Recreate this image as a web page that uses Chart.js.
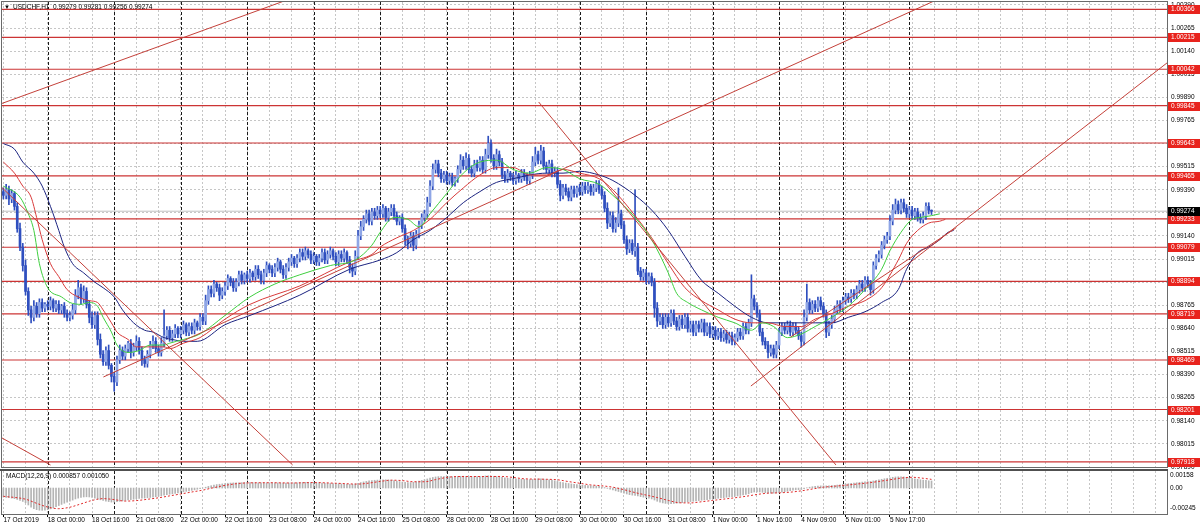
<!DOCTYPE html>
<html><head><meta charset="utf-8">
<script src="https://cdn.jsdelivr.net/npm/chart.js@4.4.1/dist/chart.umd.min.js"></script>
<style>
html,body{margin:0;padding:0;background:#fff;width:1200px;height:529px;overflow:hidden;}
#wrap{position:relative;width:1200px;height:529px;}
#main{position:absolute;left:0;top:0;}
#macd{position:absolute;left:0;top:469px;}
</style></head><body>
<div id="wrap"><canvas id="main" width="1200" height="469"></canvas><canvas id="macd" width="1200" height="60"></canvas></div>
<script>
// ---------------- DATA ----------------
const symbol = 'USDCHF,H1';
const firstOpen = 0.9938;
// hourly closes, 17 Oct 2019 08:00 .. 6 Nov 08:00
const closes = [
 0.9936,0.9939,0.9934,0.9937,0.9930,0.9918,0.9908,0.9898,0.9884,0.9874,0.9870,0.9876,0.9872,0.9878,0.9875,0.9877,
 0.9876,0.9879,0.9875,0.9877,0.9874,0.9876,0.9872,0.9870,0.9871,0.9874,0.9882,0.9886,0.9880,0.9884,0.9877,0.9870,0.9866,0.9871,0.9858,0.9850,0.9846,0.9852,0.9844,0.9838,
 0.9835,0.9847,0.9852,0.9849,0.9853,0.9856,0.9851,0.9854,0.9857,0.9852,0.9847,0.9845,0.9850,0.9855,0.9857,0.9853,0.9851,0.9856,0.9860,0.9863,0.9859,0.9861,0.9864,0.9861,
 0.9863,0.9866,0.9862,0.9865,0.9863,0.9867,0.9865,0.9870,0.9868,0.9879,0.9885,0.9883,0.9888,0.9886,0.9882,0.9884,0.9887,0.9891,0.9889,0.9886,0.9889,0.9893,0.9890,0.9893,
 0.9891,0.9894,0.9892,0.9896,0.9893,0.9890,0.9894,0.9898,0.9896,0.9894,0.9897,0.9900,0.9896,0.9893,0.9897,0.9900,0.9902,0.9899,0.9902,0.9905,0.9903,0.9906,0.9904,0.9901,
 0.9903,0.9900,0.9902,0.9905,0.9901,0.9904,0.9906,0.9903,0.9900,0.9904,0.9902,0.9905,0.9901,0.9897,0.9895,0.9903,0.9914,0.9919,0.9923,0.9926,0.9922,0.9927,0.9925,0.9928,
 0.9926,0.9929,0.9924,0.9927,0.9929,0.9925,0.9922,0.9924,0.9918,0.9912,0.9910,0.9914,0.9909,0.9915,0.9920,0.9924,0.9926,0.9932,0.9941,0.9950,0.9953,0.9948,0.9945,0.9947,
 0.9944,0.9946,0.9943,0.9945,0.9950,0.9955,0.9952,0.9956,0.9950,0.9948,0.9953,0.9951,0.9955,0.9950,0.9958,0.9964,0.9956,0.9952,0.9958,0.9954,0.9947,0.9945,0.9948,0.9946,
 0.9944,0.9947,0.9945,0.9948,0.9946,0.9944,0.9947,0.9954,0.9958,0.9955,0.9960,0.9952,0.9950,0.9953,0.9948,0.9949,0.9942,0.9936,0.9940,0.9938,0.9935,0.9939,0.9937,0.9940,
 0.9938,0.9941,0.9939,0.9941,0.9938,0.9940,0.9942,0.9939,0.9936,0.9929,0.9921,0.9925,0.9918,0.9921,0.9926,0.9920,0.9912,0.9907,0.9910,0.9906,0.9908,0.9895,0.9892,0.9894,
 0.9890,0.9892,0.9889,0.9875,0.9868,0.9870,0.9866,0.9870,0.9867,0.9872,0.9868,0.9865,0.9869,0.9866,0.9870,0.9864,0.9866,0.9862,0.9866,0.9864,0.9867,0.9862,0.9865,0.9861,
 0.9863,0.9860,0.9862,0.9859,0.9861,0.9858,0.9860,0.9857,0.9859,0.9862,0.9860,0.9865,0.9863,0.9867,0.9880,0.9876,0.9872,0.9862,0.9857,0.9855,0.9851,0.9853,0.9850,0.9855,
 0.9862,0.9865,0.9863,0.9866,0.9862,0.9865,0.9863,0.9860,0.9857,0.9870,0.9878,0.9874,0.9877,0.9875,0.9879,0.9876,0.9872,0.9862,0.9866,0.9869,0.9874,0.9877,0.9875,
 0.9879,0.9881,0.9880,0.9883,0.9882,0.9885,0.9888,0.9886,0.9890,0.9888,0.9885,0.9898,0.9902,0.9904,0.9909,0.9912,0.9914,0.9922,0.9928,0.9931,0.9928,0.9932,0.9929,0.9926,
 0.9928,0.9925,0.9927,0.9924,0.9923,0.9925,0.9930,0.99279,0.99274
];
// wick lengths above / below the body, in pips (0.0001)
const upWickPips = [
 2,3,2,2,1,2,3,2,3,2,2,3,2,2,2,1,
 2,2,1,2,2,1,2,2, 2,3,3,4,2,3,2,2, 3,2,2,3,2,2,3,1,
 2,2,3,2,2,1,2,2, 3,2,2,2,2,2,3,2, 2,3,14,2,2,2,2,1,
 2,2,1,2,2,2,1,2, 2,3,2,2,2,1,2,2, 2,2,1,2,2,2,2,1,
 2,2,1,2,2,2,2,2, 1,2,2,2,1,2,2,2, 2,1,2,2,2,2,1,2,
 2,1,2,2,2,2,2,1, 2,2,2,2,1,2,2,3, 3,3,2,2,2,2,2,2,
 2,2,1,2,2,2,2,1, 2,2,2,2,2,2,2,2, 2,3,3,3,2,2,2,2,
 2,2,2,1,2,3,2,3, 2,2,2,2,2,2,3,4, 2,2,3,2,2,2,2,1,
 2,2,1,2,2,2,2,3, 4,2,3,2,2,2,2,2, 2,2,2,2,2,2,2,1,
 2,2,2,2,1,2,2,2, 2,2,3,2,2,3,14,2, 2,2,2,2,31,2,2,2,
 2,2,2,2,3,2,2,2, 2,2,2,2,2,2,2,2, 2,2,2,2,2,2,2,2,
 2,2,2,2,2,2,2,2, 2,2,2,2,2,2,13,2, 2,2,2,2,2,2,2,2,
 2,2,2,2,2,2,2,2, 2,4,10,2,2,2,2,2, 2,2,2,2,2,2,2,
 2,2,2,2,2,2,2,2, 2,2,2,2,2,2,2,2, 2,3,3,3,2,2,2,2,
 2,2,2,2,2,2,2,2,0.2
];
const lowWickPips = [
 2,2,3,2,2,2,2,3,2,3,3,2,2,2,2,2,
 2,2,2,2,2,2,2,2, 2,2,2,2,3,2,2,3, 2,2,3,2,2,2,2,3,
 5,2,2,2,2,2,3,2, 2,2,3,2,2,2,2,2, 2,2,2,2,2,2,2,2,
 2,2,2,2,2,2,2,2, 2,2,2,2,2,2,3,2, 2,2,2,2,2,2,2,2,
 2,2,2,2,2,2,2,2, 2,2,2,2,2,2,2,2, 2,2,2,2,2,2,2,2,
 2,2,2,2,2,2,2,2, 2,2,2,2,2,3,3,2, 2,2,2,2,2,2,2,2,
 2,2,2,2,2,2,2,2, 2,3,3,2,3,2,2,2, 2,2,2,2,2,2,2,2,
 2,2,2,2,2,2,2,2, 2,2,2,2,2,2,2,2, 2,2,2,2,2,2,2,2,
 2,2,2,2,2,2,2,2, 2,2,2,2,2,2,2,2, 2,3,2,2,2,2,2,2,
 2,2,2,2,2,2,2,2, 2,2,3,2,2,2,2,2, 2,3,2,2,3,2,2,2,
 2,2,2,5,3,2,2,2, 2,2,2,2,2,2,2,2, 2,2,2,2,2,2,2,2,
 2,2,2,2,2,2,2,2, 2,2,2,2,2,2,2,2, 2,2,2,2,3,2,2,2,
 2,2,2,2,2,2,2,2, 3,2,2,2,2,2,2,2, 2,3,2,2,2,2,2,
 2,2,2,2,2,2,2,2, 2,2,3,2,2,2,2,2, 2,2,2,2,2,2,2,2,
 2,2,2,2,2,2,2,2,1.8
];
const xLabels = ['17 Oct 2019','18 Oct 00:00','18 Oct 16:00','21 Oct 08:00','22 Oct 00:00','22 Oct 16:00','23 Oct 08:00','24 Oct 00:00','24 Oct 16:00','25 Oct 08:00','28 Oct 00:00','28 Oct 16:00','29 Oct 08:00','30 Oct 00:00','30 Oct 16:00','31 Oct 08:00','1 Nov 00:00','1 Nov 16:00','4 Nov 09:00','5 Nov 01:00','5 Nov 17:00'];
const xLabelBars = [0,16,32,48,64,80,96,112,128,144,160,176,192,208,224,240,256,272,288,304,320];
const daySeparatorBars = [16,40,64,88,112,136,160,184,208,232,256,280,303,327];
const priceTicks = [0.97890,0.98015,0.98140,0.98265,0.98390,0.98515,0.98640,0.98765,0.98890,0.99015,0.99140,0.99265,0.99390,0.99515,0.99640,0.99765,0.99890,1.00015,1.00140,1.00265,1.00390];
const levels = [1.00366,1.00215,1.00042,0.99845,0.99643,0.99465,0.99233,0.99079,0.98894,0.98719,0.98469,0.98201,0.97918];
const bidPrice = 0.99274;
// Alligator-style moving averages (read at sample bars)
const lipsBars = [0,6,9,11,13,16,21,24,28,31,34,36,39,41,45,49,53,58,60,65,71,80,89,98,107,118,127,133,136,141,146,150,154,160,166,172,178,184,190,196,202,208,215,220,228,234,240,243,247,252,258,264,270,274,278,283,288,293,299,305,311,317,320,324,328,331,335,338];
const lipsVals = [0.9941,0.9935,0.9926,0.9917,0.9899,0.9886,0.9881,0.9878,0.9877,0.9878,0.9876,0.9870,0.9862,0.9855,0.9851,0.9852,0.9855,0.9855,0.9856,0.9858,0.9861,0.9871,0.9881,0.9888,0.9893,0.9898,0.9901,0.9909,0.9916,0.9924,0.9923,0.9919,0.9926,0.9937,0.9948,0.9954,0.9955,0.9950,0.9948,0.9951,0.9950,0.9945,0.9942,0.9936,0.9924,0.9912,0.9894,0.9883,0.9878,0.9874,0.9870,0.9867,0.9863,0.9867,0.9865,0.9859,0.9861,0.9865,0.9870,0.9876,0.9885,0.9896,0.9906,0.9916,0.9923,0.9924,0.9925,0.9926];
const teethBars = [0,4,7,10,12,14,17,20,23,27,31,34,36,39,41,45,48,53,58,60,65,71,80,89,107,125,133,136,142,148,154,160,166,172,178,184,190,196,202,208,215,220,228,234,240,246,252,258,264,270,276,282,288,293,299,305,311,317,323,326,330,334,338,340];
const teethVals = [0.9954,0.9948,0.9941,0.9935,0.9924,0.9912,0.9899,0.9892,0.9885,0.9881,0.9879,0.9878,0.9874,0.9867,0.9862,0.9858,0.9854,0.9854,0.9854,0.9853,0.9856,0.9859,0.9869,0.9877,0.9887,0.9900,0.9904,0.9908,0.9913,0.9917,0.9923,0.9932,0.9940,0.9947,0.9951,0.9951,0.9947,0.9947,0.9950,0.9948,0.9945,0.9939,0.9925,0.9913,0.9899,0.9886,0.9879,0.9874,0.9869,0.9867,0.9867,0.9865,0.9865,0.9869,0.9872,0.9876,0.9879,0.9886,0.9901,0.9910,0.9917,0.9921,0.9922,0.9923];
const jawBars = [0,4,7,11,14,17,20,22,25,29,33,36,40,43,47,51,54,58,61,65,70,80,89,107,125,136,142,148,154,160,166,172,178,184,190,196,202,208,215,220,228,234,240,246,252,258,264,270,276,282,288,293,299,305,311,317,323,326,330,334,338,341,343];
const jawVals = [0.9964,0.9961,0.9954,0.9948,0.9941,0.9930,0.9917,0.9908,0.9899,0.9894,0.9889,0.9886,0.9881,0.9874,0.9867,0.9863,0.9862,0.9859,0.9858,0.9857,0.9857,0.9866,0.9871,0.9882,0.9896,0.9901,0.9905,0.9912,0.9917,0.9924,0.9932,0.9938,0.9943,0.9945,0.9947,0.9948,0.9948,0.9949,0.9947,0.9944,0.9936,0.9928,0.9917,0.9903,0.9890,0.9883,0.9876,0.9870,0.9867,0.9867,0.9867,0.9867,0.9867,0.9870,0.9873,0.9878,0.9885,0.9896,0.9905,0.9908,0.9912,0.9916,0.9917];
// trend lines: start (bar, price) -> end (bar, price)
const trendFromBar   = [-1.1, 36.1, -1.1, 193.2, 269.8, 284.1, -1.1];
const trendFromPrice = [0.99854, 0.98377, 0.99410, 0.99865, 0.98328, 0.98593, 0.98052];
const trendToBar     = [101.8, 336.6, 104.4, 300.5, 420.4, 343.8, 17.0];
const trendToPrice   = [1.00414, 1.00416, 0.97901, 0.97901, 1.00081, 0.99183, 0.97901];
// MACD(12,26,9) main line (histogram) per bar and signal line samples
const macdHist = [
 -110e-5,-115e-5,-118e-5,-122e-5,-128e-5,-138e-5,-150e-5,-162e-5,
 -178e-5,-205e-5,-230e-5,-250e-5,-262e-5,-268e-5,-270e-5,-268e-5,
 -262e-5,-252e-5,-240e-5,-226e-5,-212e-5,-198e-5,-184e-5,-170e-5,
 -158e-5,-146e-5,-132e-5,-122e-5,-114e-5,-108e-5,-106e-5,-108e-5,
 -114e-5,-122e-5,-132e-5,-142e-5,-150e-5,-158e-5,-164e-5,-170e-5,
 -170e-5,-166e-5,-160e-5,-155e-5,-150e-5,-145e-5,-140e-5,-135e-5,
 -130e-5,-126e-5,-124e-5,-122e-5,-118e-5,-114e-5,-110e-5,-105e-5,
 -100e-5,-94e-5,-86e-5,-80e-5,-75e-5,-70e-5,-64e-5,-58e-5,
 -52e-5,-46e-5,-40e-5,-34e-5,-28e-5,-22e-5,-15e-5,-8e-5,
 0,10e-5,20e-5,28e-5,36e-5,42e-5,46e-5,50e-5,
 54e-5,58e-5,60e-5,62e-5,63e-5,64e-5,65e-5,66e-5,
 66e-5,66e-5,65e-5,64e-5,63e-5,62e-5,62e-5,62e-5,
 62e-5,62e-5,62e-5,62e-5,61e-5,60e-5,60e-5,61e-5,
 62e-5,63e-5,64e-5,66e-5,67e-5,68e-5,68e-5,67e-5,
 66e-5,64e-5,62e-5,60e-5,58e-5,56e-5,55e-5,54e-5,
 53e-5,52e-5,50e-5,48e-5,46e-5,44e-5,45e-5,50e-5,
 58e-5,66e-5,74e-5,80e-5,86e-5,90e-5,94e-5,96e-5,
 98e-5,100e-5,100e-5,98e-5,95e-5,90e-5,84e-5,78e-5,
 72e-5,68e-5,66e-5,66e-5,70e-5,76e-5,84e-5,92e-5,
 100e-5,110e-5,120e-5,128e-5,134e-5,138e-5,140e-5,140e-5,
 140e-5,138e-5,137e-5,138e-5,140e-5,142e-5,143e-5,142e-5,
 140e-5,138e-5,137e-5,138e-5,139e-5,142e-5,146e-5,148e-5,
 146e-5,142e-5,138e-5,134e-5,128e-5,122e-5,118e-5,115e-5,
 112e-5,110e-5,108e-5,106e-5,104e-5,102e-5,102e-5,104e-5,
 108e-5,110e-5,110e-5,108e-5,104e-5,100e-5,95e-5,88e-5,
 80e-5,72e-5,66e-5,60e-5,55e-5,50e-5,46e-5,42e-5,
 38e-5,35e-5,32e-5,30e-5,28e-5,26e-5,24e-5,20e-5,
 14e-5,6e-5,-4e-5,-14e-5,-24e-5,-34e-5,-42e-5,-52e-5,
 -62e-5,-72e-5,-80e-5,-86e-5,-90e-5,-96e-5,-104e-5,-110e-5,
 -116e-5,-122e-5,-132e-5,-145e-5,-160e-5,-172e-5,-180e-5,-186e-5,
 -188e-5,-188e-5,-186e-5,-184e-5,-180e-5,-176e-5,-172e-5,-168e-5,
 -164e-5,-160e-5,-156e-5,-152e-5,-148e-5,-144e-5,-140e-5,-136e-5,
 -132e-5,-128e-5,-124e-5,-120e-5,-116e-5,-112e-5,-108e-5,-104e-5,
 -100e-5,-96e-5,-90e-5,-84e-5,-78e-5,-70e-5,-56e-5,-48e-5,
 -46e-5,-48e-5,-52e-5,-56e-5,-60e-5,-62e-5,-62e-5,-60e-5,
 -56e-5,-50e-5,-44e-5,-38e-5,-32e-5,-26e-5,-22e-5,-20e-5,
 -18e-5,-8e-5,2e-5,10e-5,16e-5,20e-5,24e-5,26e-5,
 26e-5,26e-5,28e-5,30e-5,32e-5,36e-5,40e-5,44e-5,
 48e-5,52e-5,56e-5,60e-5,64e-5,68e-5,72e-5,76e-5,
 78e-5,80e-5,86e-5,94e-5,100e-5,106e-5,112e-5,118e-5,
 124e-5,130e-5,134e-5,136e-5,136e-5,134e-5,130e-5,124e-5,
 118e-5,112e-5,106e-5,100e-5,96e-5,92e-5,88e-5,85.7e-5
];
const signalBars = [0,8,12,16,20,24,28,32,36,40,44,48,52,56,60,64,68,72,76,80,84,88,96,104,112,120,128,132,136,140,144,148,152,156,160,164,172,180,184,188,196,200,204,208,212,216,220,224,228,232,236,240,244,248,252,256,260,264,268,272,276,280,284,288,292,296,300,304,308,312,316,320,324,328,332,335];
const signalVals = [-100e-5,-135e-5,-185e-5,-230e-5,-250e-5,-232e-5,-192e-5,-150e-5,-128e-5,-140e-5,-158e-5,-152e-5,-136e-5,-118e-5,-95e-5,-72e-5,-48e-5,-25e-5,5e-5,32e-5,52e-5,62e-5,64e-5,61e-5,66e-5,58e-5,48e-5,60e-5,80e-5,95e-5,90e-5,76e-5,76e-5,102e-5,128e-5,139e-5,139e-5,140e-5,128e-5,112e-5,106e-5,100e-5,78e-5,58e-5,38e-5,27e-5,10e-5,-20e-5,-55e-5,-85e-5,-115e-5,-150e-5,-178e-5,-180e-5,-166e-5,-150e-5,-134e-5,-118e-5,-100e-5,-78e-5,-62e-5,-58e-5,-50e-5,-34e-5,-12e-5,10e-5,22e-5,34e-5,48e-5,62e-5,80e-5,100e-5,120e-5,130e-5,118e-5,105e-5];
const macdTicks = [0.00158, 0, -0.00245];
const macdTickLabels = ['0.00158', '0.00', '-0.00245'];

// ---------------- BUILD ----------------
const FONT = '"Liberation Sans", Arial, sans-serif';
Chart.defaults.font.family = FONT;
Chart.defaults.font.size = 6.5;
Chart.defaults.color = '#000';

const opens = closes.map((c, i) => i === 0 ? firstOpen : closes[i - 1]);
const highs = closes.map((c, i) => Math.max(opens[i], c) + upWickPips[i] * 1e-4);
const lows = closes.map((c, i) => Math.min(opens[i], c) - lowWickPips[i] * 1e-4);
const wickData = closes.map((c, i) => ({x: i, y: [lows[i], highs[i]]}));
const bodyData = closes.map((c, i) => ({x: i, y: [opens[i], c]}));
const pts = (bars, vals) => bars.map((b, i) => ({x: b, y: vals[i]}));

const X_MIN = -0.5, X_MAX = 420;
const P_MIN = 0.97890, P_MAX = 1.00406;
const M_MIN = -0.00314, M_MAX = 0.00206;
const GRID = '#c6c6c6';
const bull = '#8fa6e6', bear = '#2f4fbf', wickCol = '#2f4fbf';

function xGridTicks(s) { const t = []; for (let v = 0; v <= 416; v += 8) t.push({value: v}); s.ticks = t; }

const datasets = [];
levels.forEach(v => datasets.push({type: 'line', data: [{x: X_MIN - 2, y: v}, {x: X_MAX + 2, y: v}], borderColor: '#cc3434', borderWidth: 1.2, pointRadius: 0, order: 6}));
datasets.push({type: 'line', data: [{x: X_MIN - 2, y: bidPrice}, {x: X_MAX + 2, y: bidPrice}], borderColor: '#c0c0c0', borderWidth: 1, pointRadius: 0, order: 6});
datasets.push({type: 'bar', data: wickData, backgroundColor: wickCol, barThickness: 1, grouped: false, borderWidth: 0, order: 4});
datasets.push({type: 'bar', data: bodyData, backgroundColor: ctx => (closes[ctx.dataIndex] >= opens[ctx.dataIndex] ? bull : bear), borderColor: wickCol, borderWidth: 0, barThickness: 2, minBarLength: 1, grouped: false, order: 3});
[[lipsBars, lipsVals, '#3fcf3f'], [teethBars, teethVals, '#d83a3a'], [jawBars, jawVals, '#1c2480']].forEach(([b, v, c]) =>
  datasets.push({type: 'line', data: pts(b, v), borderColor: c, borderWidth: 1, pointRadius: 0, cubicInterpolationMode: 'monotone', order: 2}));
trendFromBar.forEach((b, i) => datasets.push({type: 'line', data: [{x: b, y: trendFromPrice[i]}, {x: trendToBar[i], y: trendToPrice[i]}], borderColor: '#c4413a', borderWidth: 1, pointRadius: 0, order: 1}));

function labelBox(ctx, text, y, bg) {
  ctx.fillStyle = bg;
  ctx.fillRect(1168, Math.round(y) - 4, 32, 9);
  ctx.fillStyle = '#fff';
  ctx.textBaseline = 'middle'; ctx.textAlign = 'left';
  ctx.font = '6.5px ' + FONT;
  ctx.fillText(text, 1171, Math.round(y) + 0.5);
}
function separators(chart) {
  const {ctx, chartArea: a, scales: {x}} = chart;
  ctx.save();
  ctx.beginPath(); ctx.rect(a.left, a.top, a.right - a.left, a.bottom - a.top); ctx.clip();
  ctx.strokeStyle = '#1a1a1a'; ctx.lineWidth = 1; ctx.setLineDash([3, 2]);
  daySeparatorBars.forEach(b => {
    const px = Math.round(x.getPixelForValue(b)) + 0.5;
    ctx.beginPath(); ctx.moveTo(px, a.top); ctx.lineTo(px, a.bottom); ctx.stroke();
  });
  ctx.restore();
}

const decorMain = {
  id: 'decorMain',
  beforeDatasetsDraw(chart) { separators(chart); },
  afterDraw(chart) {
    const {ctx, chartArea: a, scales: {y}} = chart;
    ctx.save();
    ctx.strokeStyle = '#6a6a6a'; ctx.lineWidth = 1;
    ctx.strokeRect(a.left - 0.5, a.top - 0.5, a.right - a.left + 1, a.bottom - a.top + 1);
    levels.forEach(v => labelBox(ctx, v.toFixed(5), y.getPixelForValue(v), '#e8231d'));
    labelBox(ctx, bidPrice.toFixed(5), y.getPixelForValue(bidPrice), '#000');
    const n = closes.length - 1;
    ctx.fillStyle = '#000'; ctx.textBaseline = 'middle'; ctx.textAlign = 'left';
    ctx.font = '6px ' + FONT;
    ctx.fillText('\u25BC', 4, 7);
    ctx.font = '6.5px ' + FONT;
    ctx.fillText(symbol + '  ' + [opens[n], highs[n], lows[n], closes[n]].map(v => v.toFixed(5)).join(' '), 13, 7);
    ctx.restore();
  }
};

new Chart(document.getElementById('main'), {
  type: 'bar',
  data: {datasets},
  options: {
    responsive: false, animation: false, events: [],
    layout: {padding: {left: 2, top: 2, right: 0, bottom: 2}},
    plugins: {legend: {display: false}, tooltip: {enabled: false}},
    scales: {
      x: {type: 'linear', min: X_MIN, max: X_MAX, offset: false, afterBuildTicks: xGridTicks,
          ticks: {display: false}, grid: {color: GRID, drawTicks: false, offset: false}, border: {display: false, dash: [2, 2]},
          afterFit: s => { s.height = 0; }},
      y: {type: 'linear', position: 'right', min: P_MIN, max: P_MAX,
          afterBuildTicks: s => { s.ticks = priceTicks.map(v => ({value: v})); },
          ticks: {callback: v => Number(v).toFixed(5), padding: 4, font: {size: 6.5, lineHeight: 1}},
          grid: {color: GRID, drawTicks: false}, border: {display: false, dash: [2, 2]},
          afterFit: s => { s.width = 33; s.paddingTop = 0; s.paddingBottom = 0; }}
    }
  },
  plugins: [decorMain]
});

const decorMacd = {
  id: 'decorMacd',
  beforeDatasetsDraw(chart) { separators(chart); },
  afterDraw(chart) {
    const {ctx, chartArea: a} = chart;
    ctx.save();
    ctx.strokeStyle = '#6a6a6a'; ctx.lineWidth = 1;
    ctx.strokeRect(a.left - 0.5, a.top - 0.5, a.right - a.left + 1, a.bottom - a.top + 1);
    ctx.fillStyle = '#505050'; ctx.fillRect(0, 0, a.right + 1, 2);
    ctx.fillStyle = '#000'; ctx.textBaseline = 'middle'; ctx.textAlign = 'left';
    ctx.font = '6.5px ' + FONT;
    const n = macdHist.length - 1;
    ctx.fillText('MACD(12,26,9) ' + macdHist[n].toFixed(6) + ' ' + signalVals[signalVals.length - 1].toFixed(6), 6, 7);
    ctx.restore();
  }
};

new Chart(document.getElementById('macd'), {
  type: 'bar',
  data: {datasets: [
    {type: 'line', data: pts(signalBars, signalVals), borderColor: '#e02a2a', borderWidth: 1, borderDash: [2, 2], pointRadius: 0, cubicInterpolationMode: 'monotone', order: 1},
    {type: 'bar', data: macdHist.map((v, i) => ({x: i, y: v})), backgroundColor: '#b4b4b4', barThickness: 1, grouped: false, borderWidth: 0, order: 2}
  ]},
  options: {
    responsive: false, animation: false, events: [],
    layout: {padding: {left: 2, top: 2, right: 0, bottom: 0}},
    plugins: {legend: {display: false}, tooltip: {enabled: false}},
    scales: {
      x: {type: 'linear', min: X_MIN, max: X_MAX, offset: false, afterBuildTicks: xGridTicks,
          ticks: {autoSkip: false, maxRotation: 0, align: 'start', padding: 0, font: {size: 6.5, lineHeight: 1},
                  callback: v => { const k = xLabelBars.indexOf(v); return k >= 0 ? xLabels[k] : ''; }},
          grid: {color: GRID, drawTicks: true, tickLength: 3, offset: false,
                 tickColor: c => (c.tick && xLabelBars.includes(c.tick.value)) ? '#000' : 'rgba(0,0,0,0)'},
          border: {display: true, color: '#000', dash: [2, 2]},
          afterFit: s => { s.height = 15; s.paddingLeft = 0; s.paddingRight = 0; }},
      y: {type: 'linear', position: 'right', min: M_MIN, max: M_MAX,
          afterBuildTicks: s => { s.ticks = macdTicks.map(v => ({value: v})); },
          ticks: {callback: (v, i) => macdTickLabels[i], padding: 3, font: {size: 6.5, lineHeight: 1}},
          grid: {display: false, drawTicks: false}, border: {display: false},
          afterFit: s => { s.width = 33; s.paddingTop = 0; s.paddingBottom = 0; }}
    }
  },
  plugins: [decorMacd]
});
</script>
</body></html>
